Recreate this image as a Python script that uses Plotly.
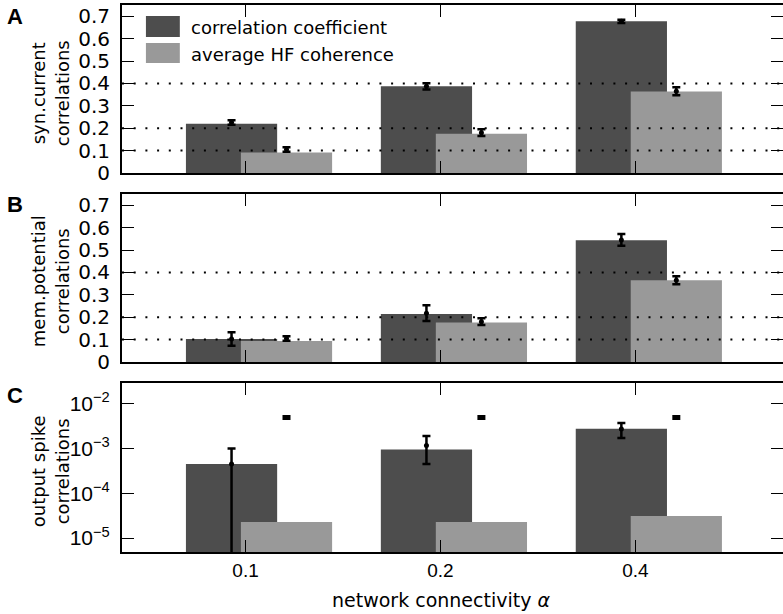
import plotly.graph_objects as go

# ---------------- data ----------------
categories = ["0.1", "0.2", "0.4"]
connectivity = [0.1, 0.2, 0.4]
positions = [1, 2, 3]

# Panel A: synaptic current correlations
a_corr_bar = [0.220, 0.387, 0.677]
a_corr_pt = [0.225, 0.387, 0.677]
a_corr_err = [0.010, 0.014, 0.007]
a_coh_bar = [0.092, 0.175, 0.364]
a_coh_pt = [0.105, 0.180, 0.365]
a_coh_err = [0.010, 0.015, 0.018]

# Panel B: membrane potential correlations
b_corr_bar = [0.103, 0.214, 0.543]
b_corr_pt = [0.103, 0.218, 0.545]
b_corr_err = [0.030, 0.035, 0.026]
b_coh_bar = [0.094, 0.176, 0.365]
b_coh_pt = [0.105, 0.180, 0.365]
b_coh_err = [0.010, 0.015, 0.018]

# Panel C: output spike correlations (log)
c_corr_bar = [4.5e-4, 9.5e-4, 2.75e-3]
c_corr_pt = [4.5e-4, 1.17e-3, 2.7e-3]
c_corr_err = [5.5e-4, 7.2e-4, 1.0e-3]
c_coh_bar = [2.3e-5, 2.3e-5, 3.1e-5]
c_coh_pt = [4.9e-3, 4.9e-3, 4.9e-3]
c_coh_err = [3e-4, 3e-4, 3e-4]

y_ticks_lin = [0, 0.1, 0.2, 0.3, 0.4, 0.5, 0.6, 0.7]
y_ticks_log = [1e-5, 1e-4, 1e-3, 1e-2]
y_ticks_log_text = ["10<sup>−5</sup>", "10<sup>−4</sup>", "10<sup>−3</sup>", "10<sup>−2</sup>"]

# ---------------- style / layout constants ----------------
W, H = 786, 614
ML, MR, MT, MB = 122, 1, 5, 62
PW, PH = W - ML - MR, H - MT - MB
DARK = "#4d4d4d"
LIGHT = "#999999"
BAR_W = 0.468
DARK_SHIFT = -0.072
LIGHT_SHIFT = 0.210
PX_PER_UNIT = 195.5
XLEFT = 0.366
XRANGE = [XLEFT, XLEFT + PW / PX_PER_UNIT]


def pxx(px):
    return (px - ML) / PW


def pxy(py):
    return (H - MB - py) / PH


# panel pixel extents (top, bottom)
panels = [(5, 173), (194, 362), (383, 552)]

fig = go.Figure()


def add_panel(k, corr_bar, corr_pt, corr_err, coh_bar, coh_pt, coh_err, lines):
    xa = "x" if k == 1 else f"x{k}"
    ya = "y" if k == 1 else f"y{k}"
    fig.add_trace(go.Bar(x=positions, y=corr_bar, width=BAR_W,
                         offset=DARK_SHIFT - BAR_W / 2, marker=dict(color=DARK, line=dict(width=0)),
                         xaxis=xa, yaxis=ya, showlegend=False, hoverinfo="y"))
    fig.add_trace(go.Bar(x=positions, y=coh_bar, width=BAR_W,
                         offset=LIGHT_SHIFT - BAR_W / 2, marker=dict(color=LIGHT, line=dict(width=0)),
                         xaxis=xa, yaxis=ya, showlegend=False, hoverinfo="y"))
    if lines:
        for v in connectivity:
            fig.add_trace(go.Scatter(x=XRANGE, y=[v, v], mode="lines",
                                     line=dict(color="black", width=2, dash="2px,9.7px"),
                                     xaxis=xa, yaxis=ya, showlegend=False, hoverinfo="skip"))
    for pts, errs, shift in [(corr_pt, corr_err, DARK_SHIFT), (coh_pt, coh_err, LIGHT_SHIFT)]:
        fig.add_trace(go.Scatter(x=[p + shift for p in positions], y=pts, mode="markers",
                                 marker=dict(color="black", size=5),
                                 error_y=dict(type="data", array=errs, color="black",
                                              thickness=2.5, width=4),
                                 xaxis=xa, yaxis=ya, showlegend=False))


add_panel(1, a_corr_bar, a_corr_pt, a_corr_err, a_coh_bar, a_coh_pt, a_coh_err, True)
add_panel(2, b_corr_bar, b_corr_pt, b_corr_err, b_coh_bar, b_coh_pt, b_coh_err, True)
add_panel(3, c_corr_bar, c_corr_pt, c_corr_err, c_coh_bar, c_coh_pt, c_coh_err, False)

axis_common = dict(showline=True, linecolor="black", linewidth=2, mirror="ticks",
                   ticks="inside", ticklen=12, tickwidth=1.3, tickcolor="black",
                   showgrid=False, zeroline=False)

layout = dict(width=W, height=H, margin=dict(l=ML, r=MR, t=MT, b=MB),
              plot_bgcolor="white", paper_bgcolor="white", barmode="overlay",
              showlegend=False)

for k, (top, bot) in enumerate(panels, start=1):
    xk = "xaxis" if k == 1 else f"xaxis{k}"
    yk = "yaxis" if k == 1 else f"yaxis{k}"
    anchor_y = "y" if k == 1 else f"y{k}"
    anchor_x = "x" if k == 1 else f"x{k}"
    layout[xk] = dict(axis_common, range=XRANGE, tickvals=positions, ticktext=categories,
                      showticklabels=(k == 3), anchor=anchor_y, domain=[0, 1],
                      tickfont=dict(family="Liberation Sans", size=19, color="black"),
                      ticklabelstandoff=0)
    ydict = dict(axis_common, anchor=anchor_x, domain=[pxy(bot), pxy(top)],
                 ticklabelstandoff=6)
    if k < 3:
        ydict.update(range=[0, 0.75], tickvals=y_ticks_lin,
                     ticktext=[f"{v:g}" for v in y_ticks_lin],
                     tickfont=dict(family="DejaVu Sans", size=20, color="black"))
    else:
        ydict.update(type="log", range=[-5.31, -1.54], tickvals=y_ticks_log,
                     ticktext=y_ticks_log_text,
                     tickfont=dict(family="Liberation Sans", size=21, color="black"))
    layout[yk] = ydict

fig.update_layout(**layout)

# manual legend (panel A)
legend_items = [("correlation coefficient", DARK, 16, 37), ("average HF coherence", LIGHT, 43, 63)]
for label, col, t, b in legend_items:
    fig.add_shape(type="rect", xref="paper", yref="paper", x0=pxx(146), x1=pxx(180),
                  y0=pxy(b), y1=pxy(t), fillcolor=col, line=dict(width=0), layer="above")
    fig.add_annotation(text=label, xref="paper", yref="paper", x=pxx(189), y=pxy((t + b) / 2 + 1),
                       xanchor="left", yanchor="middle", showarrow=False,
                       font=dict(family="DejaVu Sans", size=18, color="black"))

# y titles
ytitles = [("syn.current<br>correlations", 93), ("mem.potential<br>correlations", 281),
           ("output spike<br>correlations", 471)]
for txt, cy in ytitles:
    fig.add_annotation(text=txt, xref="paper", yref="paper", x=pxx(50), y=pxy(cy),
                       xanchor="center", yanchor="middle", textangle=-90, showarrow=False,
                       font=dict(family="DejaVu Sans", size=18, color="black"))

# panel letters
for letter, cy in [("A", 17), ("B", 204), ("C", 395)]:
    fig.add_annotation(text=f"<b>{letter}</b>", xref="paper", yref="paper", x=pxx(15), y=pxy(cy),
                       xanchor="center", yanchor="middle", showarrow=False,
                       font=dict(family="Liberation Sans", size=22, color="black"))

# x title
fig.add_annotation(text="network connectivity <i>α</i>", xref="paper", yref="paper",
                   x=pxx(442), y=pxy(600), xanchor="center", yanchor="middle", showarrow=False,
                   font=dict(family="DejaVu Sans", size=19, color="black"))

fig.write_html("out.html", config={"displayModeBar": False},
               post_script="document.body.style.margin='0px';document.body.style.overflow='hidden';")
